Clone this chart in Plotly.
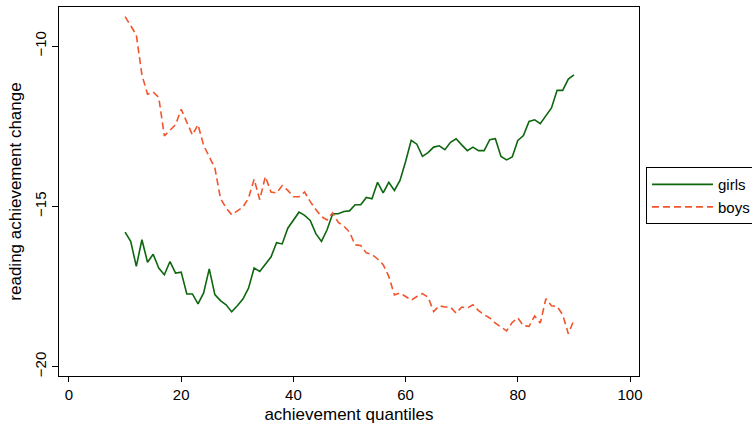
import plotly.graph_objects as go

quantiles = list(range(10, 91))

girls = [-15.8, -16.09, -16.87, -16.04, -16.74, -16.49, -16.92, -17.13, -16.72, -17.08,
         -17.05, -17.73, -17.73, -18.04, -17.7, -16.95, -17.75, -17.94, -18.07, -18.29,
         -18.1, -17.89, -17.55, -16.92, -17.03, -16.82, -16.58, -16.13, -16.17, -15.68,
         -15.42, -15.18, -15.28, -15.44, -15.85, -16.09, -15.73, -15.23, -15.23, -15.16,
         -15.14, -14.95, -14.95, -14.72, -14.76, -14.25, -14.58, -14.25, -14.5, -14.19,
         -13.6, -12.94, -13.06, -13.44, -13.32, -13.15, -13.11, -13.23, -13.0, -12.89,
         -13.08, -13.26, -13.15, -13.26, -13.26, -12.92, -12.89, -13.44, -13.55, -13.46,
         -12.94, -12.79, -12.35, -12.3, -12.42, -12.17, -11.93, -11.38, -11.38, -11.03,
         -10.9]

boys = [-9.08, -9.35, -9.65, -10.9, -11.5, -11.43, -11.6, -12.8, -12.63, -12.45,
        -11.97, -12.4, -12.77, -12.45, -13.1, -13.45, -13.8, -14.75, -15.05, -15.26,
        -15.15, -15.02, -14.74, -14.15, -14.79, -14.07, -14.55, -14.58, -14.35, -14.5,
        -14.7, -14.7, -14.55, -14.85, -15.1, -15.32, -15.42, -15.2, -15.5, -15.62,
        -15.8, -16.2, -16.22, -16.45, -16.5, -16.64, -16.82, -17.18, -17.76, -17.7,
        -17.81, -17.93, -17.81, -17.72, -17.83, -18.28, -18.1, -18.14, -18.14, -18.33,
        -18.14, -18.17, -18.07, -18.25, -18.38, -18.48, -18.64, -18.76, -18.88, -18.62,
        -18.48, -18.72, -18.74, -18.42, -18.64, -17.88, -18.1, -18.12, -18.38, -18.97,
        -18.55]

x_ticks = [0, 20, 40, 60, 80, 100]
y_ticks = [-20, -15, -10]

FONT = "Liberation Sans, Arial, Helvetica, sans-serif"

fig = go.Figure()
fig.add_trace(go.Scatter(x=quantiles, y=girls, mode="lines", name="girls",
                         line=dict(color="#0e660e", width=1.6)))
fig.add_trace(go.Scatter(x=quantiles, y=boys, mode="lines", name="boys",
                         line=dict(color="#f2552c", width=1.6, dash="7px,4px")))

fig.update_layout(
    width=752, height=426,
    margin=dict(l=59, r=113, t=7, b=50, autoexpand=False),
    paper_bgcolor="white", plot_bgcolor="white",
    font=dict(family=FONT, size=15, color="black"),
    showlegend=True,
    legend=dict(x=1.012, y=0.566, xanchor="left", yanchor="top",
                bordercolor="black", borderwidth=1, bgcolor="white",
                font=dict(size=15), itemwidth=61, tracegroupgap=0,
                entrywidth=125, entrywidthmode="pixels"),
    xaxis=dict(range=[-1.78, 101.6], tickvals=x_ticks, ticks="outside", ticklen=5,
               tickcolor="black", showgrid=False, zeroline=False, automargin=False,
               showline=True, linecolor="black", linewidth=1, mirror=True,
               title=dict(text="achievement quantiles", font=dict(size=17), standoff=6),
               tickfont=dict(size=15)),
    yaxis=dict(range=[-20.29, -8.78], tickvals=y_ticks, ticks="outside", ticklen=6,
               tickcolor="black", showgrid=False, zeroline=False, tickangle=-90,
               automargin=False,
               showline=True, linecolor="black", linewidth=1, mirror=True,
               title=dict(text="reading achievement change", font=dict(size=17), standoff=6),
               tickfont=dict(size=15)),
)

fig.write_html("out.html",
               config={"displayModeBar": False},
               post_script="document.body.style.margin='0px';"
                           "document.body.style.overflow='hidden';")
